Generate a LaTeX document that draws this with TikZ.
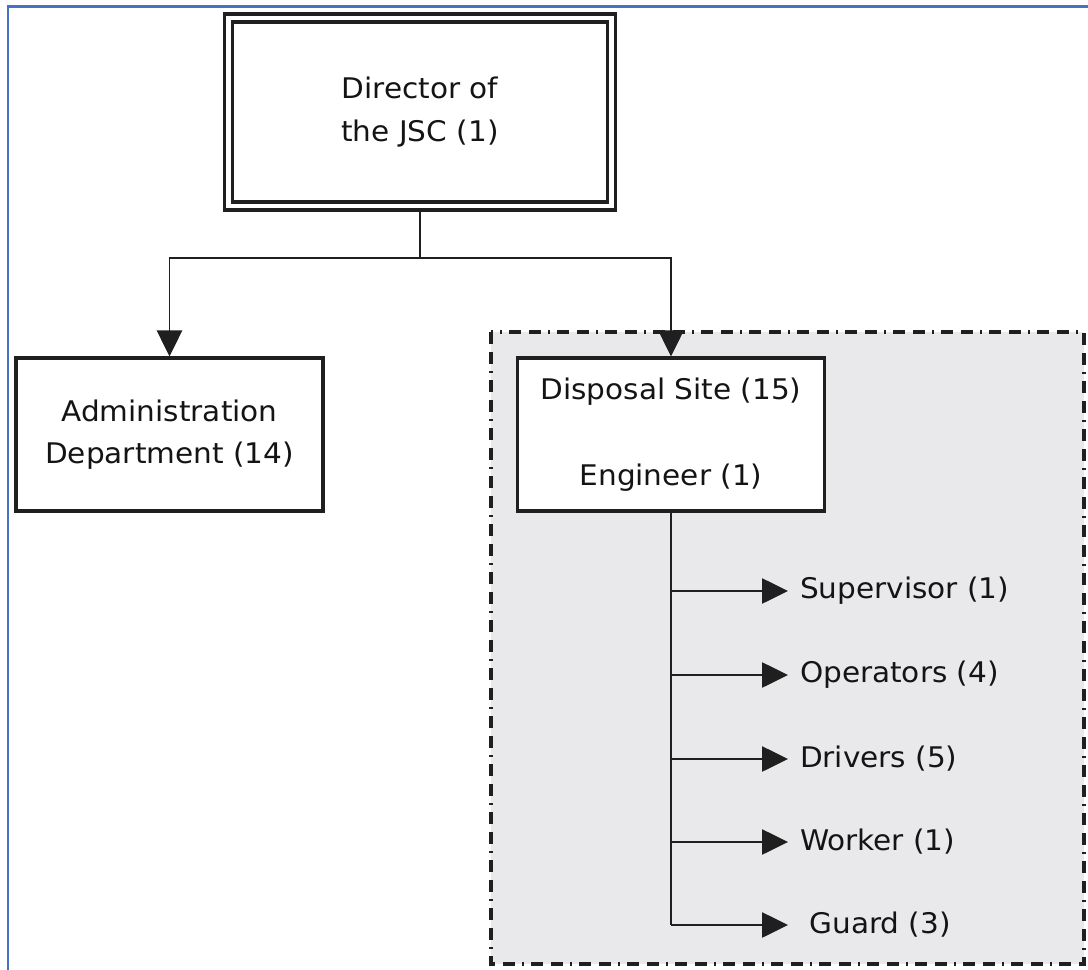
\documentclass[tikz,border=0pt]{standalone}
\usepackage{fontspec}
\setmainfont{DejaVu Sans}[FakeStretch=1.04]
\usetikzlibrary{arrows.meta}
\definecolor{frameblue}{RGB}{68,114,196}
\definecolor{sitegray}{RGB}{233,233,236}
\begin{document}
\begin{tikzpicture}[x=0.75pt,y=-0.75pt,
  every node/.style={font=\fontsize{21.3}{32}\selectfont, text=black!92},
  unitbox/.style={draw=black!88, line width=2.3pt, fill=white, align=center,
    minimum width=307*0.75pt, minimum height=153*0.75pt, inner sep=0pt},
  topbox/.style={draw=black!88, line width=2.4pt, double=white, double distance=3.6pt,
    fill=white, align=center, minimum width=383*0.75pt, minimum height=188*0.75pt,
    inner sep=0pt, outer sep=4.2pt},
  link/.style={draw=black!88, line width=1.05pt},
  tip/.style={-{Triangle[length=19.5pt,width=19pt]}},
  staff/.style={anchor=west, inner xsep=9pt, inner ysep=0pt, outer sep=0pt},
  sitezone/.style={fill=sitegray, draw=black!88, line width=2.3pt,
    dash pattern=on 9pt off 6pt on 9pt off 5.25pt on 1.5pt off 5.25pt}]
\useasboundingbox (0,0) rectangle (1088,970);

% page frame: top and left rules
\draw[frameblue, line width=2pt] (1088,6.5) -- (8,6.5) -- (8,970);

% disposal site area
\draw[sitezone] (491,332) rectangle (1084,964);

% units
\node[topbox] (dir) at (420,112) {Director of\\the JSC (1)};
\node[unitbox] (adm) at (169.5,434.5) {Administration\\Department (14)};
\node[unitbox] (site) at (671,434.5) {Disposal Site (15)\\[32pt]Engineer (1)};

% reporting lines from the director
\coordinate (split) at (420,258);
\draw[link] (dir.south) -- (split);
\draw[link,tip] (split) -| (adm.north);
\draw[link,tip] (split) -| (site.north);

% staff of the disposal site
\node[staff] (sup) at (788,591) {Supervisor (1)};
\node[staff] (ope) at (788,675) {Operators (4)};
\node[staff] (drv) at (788,759) {Drivers (5)};
\node[staff] (wrk) at (788,842) {Worker (1)};
\node[staff] (grd) at (788,925) {\ Guard (3)};

\coordinate (trunkend) at (671,925);
\draw[link] (site.south) -- (trunkend);
\foreach \s in {sup,ope,drv,wrk,grd}
  \draw[link,tip] (site.south |- \s.west) -- (\s.west);
\end{tikzpicture}
\end{document}
